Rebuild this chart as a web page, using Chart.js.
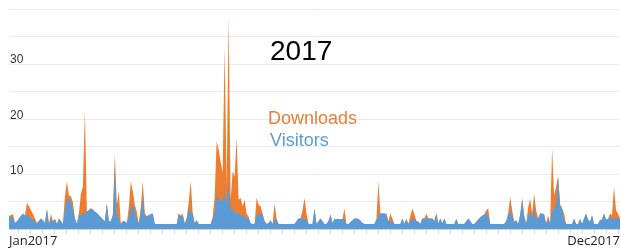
<!DOCTYPE html>
<html>
<head>
<meta charset="utf-8">
<script src="https://cdn.jsdelivr.net/npm/chart.js@4.4.1/dist/chart.umd.min.js"></script>
<style>
  html, body { margin: 0; padding: 0; background: #fff; }
</style>
</head>
<body>
<canvas id="chart" width="621" height="252"></canvas>
<script>
// 2017, one sample every ~2px across the year
const chartTitle = '2017';
const xTickLabels = ['Jan2017', 'Dec2017'];
const yTickLabels = [10, 20, 30];

const visitors = [
  2.5, 2.3, 2.0, 1.2, 1.5, 2.0, 2.5, 2.9, 2.5, 2.6,
  2.4, 2.0, 1.8, 1.5, 1.1, 1.6, 2.0, 1.7, 1.2, 3.7,
  1.0, 2.0, 1.5, 1.9, 1.0, 2.0, 1.5, 1.0, 3.5, 5.6,
  5.5, 5.0, 3.5, 2.0, 1.0, 2.8, 2.5, 2.9, 3.0, 3.2,
  3.5, 3.8, 3.6, 3.2, 3.0, 2.6, 2.2, 1.8, 1.5, 4.7,
  1.5, 1.5, 2.6, 11.4, 2.5, 2.0, 1.0, 1.5, 1.5, 1.2,
  2.3, 4.1, 4.5, 3.0, 2.0, 1.1, 3.0, 6.0, 2.3, 2.4,
  2.6, 2.8, 2.9, 1.0, 1.0, 1.0, 1.0, 1.0, 1.0, 1.0,
  1.0, 1.0, 1.0, 1.0, 1.0, 2.9, 2.3, 2.5, 1.1, 2.0,
  3.8, 3.0, 2.9, 1.1, 1.7, 1.0, 1.0, 1.0, 1.0, 1.0,
  1.0, 1.0, 2.0, 2.9, 6.0, 5.7, 5.3, 5.0, 6.9, 4.2,
  8.7, 3.8, 3.5, 3.3, 2.9, 2.9, 2.6, 2.5, 2.3, 2.1,
  2.0, 1.1, 1.0, 1.0, 2.5, 2.8, 2.9, 2.6, 1.5, 1.0,
  1.2, 1.7, 1.0, 2.0, 1.7, 1.0, 1.0, 1.0, 1.0, 1.0,
  1.0, 1.0, 1.0, 1.0, 1.5, 2.0, 2.0, 2.0, 2.0, 1.7,
  1.0, 1.0, 1.0, 3.8, 1.0, 1.5, 2.0, 1.5, 1.0, 1.0,
  1.5, 2.7, 1.2, 1.9, 1.9, 1.9, 1.9, 1.9, 1.9, 1.0,
  1.0, 1.3, 1.7, 2.0, 2.0, 1.9, 1.6, 1.2, 1.0, 1.0,
  1.0, 1.0, 1.0, 1.0, 1.7, 2.6, 2.9, 2.9, 2.9, 2.6,
  1.5, 1.5, 1.5, 1.0, 1.0, 1.0, 1.0, 2.0, 1.0, 1.9,
  1.0, 1.5, 2.0, 1.8, 1.5, 1.4, 1.0, 2.0, 2.0, 2.0,
  2.0, 2.0, 2.0, 1.5, 2.9, 1.1, 2.0, 1.1, 2.0, 1.0,
  1.0, 1.0, 1.0, 1.0, 1.9, 1.0, 1.0, 1.0, 1.0, 1.5,
  2.0, 1.5, 1.0, 1.0, 1.4, 1.8, 2.2, 2.5, 2.7, 2.9,
  2.5, 1.0, 1.0, 1.0, 1.0, 1.0, 1.0, 1.0, 1.0, 1.5,
  2.5, 3.5, 2.5, 1.4, 1.7, 1.0, 2.6, 5.6, 2.5, 1.0,
  2.5, 3.2, 2.0, 4.1, 2.0, 2.0, 2.9, 2.9, 2.7, 1.1,
  1.9, 1.1, 3.2, 3.8, 4.4, 9.6, 4.5, 3.8, 1.7, 1.0,
  1.0, 1.0, 1.0, 2.0, 1.0, 1.0, 1.9, 1.0, 2.0, 2.9,
  1.8, 1.4, 2.6, 1.0, 1.0, 1.0, 1.7, 1.8, 2.9, 1.8,
  1.9, 2.3, 2.0, 2.0, 2.0, 2.0, 2.0
];

const downloads = [
  2.5, 2.6, 2.8, 1.2, 1.5, 2.0, 2.5, 2.9, 2.6, 4.8,
  4.2, 3.5, 2.8, 2.0, 1.2, 1.6, 2.0, 1.7, 1.2, 3.7,
  1.0, 2.8, 1.5, 1.9, 1.0, 2.0, 1.5, 1.0, 6.0, 8.7,
  6.2, 6.0, 5.0, 2.0, 1.0, 2.8, 6.5, 7.8, 21.7, 3.3,
  3.5, 3.9, 3.6, 3.2, 3.0, 2.6, 2.2, 1.8, 1.5, 4.7,
  1.5, 1.5, 2.6, 13.8, 4.5, 6.9, 1.0, 1.5, 1.5, 1.2,
  4.0, 8.7, 7.0, 4.5, 3.2, 1.1, 4.0, 8.7, 3.0, 2.4,
  2.6, 2.8, 2.9, 1.0, 1.0, 1.0, 1.0, 1.0, 1.0, 1.0,
  1.0, 1.0, 1.0, 1.0, 1.0, 2.9, 2.5, 2.9, 1.1, 2.0,
  5.0, 8.7, 3.0, 1.1, 1.7, 1.0, 1.0, 1.0, 1.0, 1.0,
  1.0, 1.0, 2.2, 6.0, 16.0, 14.5, 12.3, 10.2, 33.2, 7.8,
  38.7, 5.4, 10.5, 9.6, 16.6, 5.4, 5.7, 4.2, 5.4, 2.9,
  2.3, 1.1, 1.0, 1.0, 5.7, 4.5, 4.2, 2.9, 1.5, 1.0,
  1.2, 1.7, 1.0, 4.8, 2.0, 1.0, 1.0, 1.0, 1.0, 1.0,
  1.0, 1.0, 1.0, 1.0, 1.5, 2.0, 2.0, 3.5, 5.7, 2.9,
  1.0, 1.0, 1.0, 3.8, 1.0, 1.5, 2.0, 1.5, 1.0, 1.0,
  1.5, 2.7, 1.2, 1.9, 1.9, 1.9, 1.9, 1.9, 3.8, 1.0,
  1.0, 1.3, 1.7, 2.0, 2.0, 1.9, 1.6, 1.2, 1.0, 1.0,
  1.0, 1.0, 1.0, 1.0, 1.9, 8.7, 2.9, 2.9, 2.9, 2.9,
  1.5, 2.9, 2.0, 1.0, 1.0, 1.0, 1.0, 2.0, 1.0, 1.9,
  1.0, 2.5, 3.8, 2.8, 1.6, 1.4, 1.0, 2.0, 2.0, 2.9,
  2.0, 2.0, 2.0, 1.5, 2.9, 1.1, 2.0, 1.1, 2.0, 1.0,
  1.0, 1.0, 1.0, 1.0, 1.9, 1.0, 1.0, 1.0, 1.0, 1.5,
  2.0, 1.5, 1.0, 1.0, 1.4, 1.8, 2.2, 2.5, 2.7, 3.5,
  3.8, 1.0, 1.0, 1.0, 1.0, 1.0, 1.0, 1.0, 1.0, 1.5,
  3.0, 5.9, 3.5, 1.4, 1.7, 1.0, 2.6, 5.6, 2.5, 1.0,
  4.0, 5.6, 3.0, 6.5, 3.5, 2.0, 2.9, 2.9, 2.7, 1.1,
  2.6, 1.1, 14.7, 6.2, 7.8, 9.6, 4.5, 3.8, 2.9, 1.0,
  1.0, 1.0, 1.0, 2.0, 1.0, 1.0, 1.9, 1.0, 2.0, 2.9,
  1.8, 1.4, 2.6, 1.0, 1.0, 1.0, 1.7, 1.8, 2.9, 1.8,
  1.9, 2.9, 2.6, 7.8, 3.5, 2.9, 2.0
];

const samples = visitors.map((_, i) => i);

const ORANGE = '#ED7D31';
const BLUE = '#5B9BD5';

// title + coloured legend text sit inside the plot
const overlayText = {
  id: 'overlayText',
  afterDraw(chart) {
    const ctx = chart.ctx;
    ctx.save();
    ctx.textAlign = 'left';
    ctx.textBaseline = 'alphabetic';
    ctx.font = '28px "Liberation Sans", Arial, sans-serif';
    ctx.fillStyle = '#000';
    ctx.fillText(chartTitle, 270, 60);
    ctx.font = '18px "Liberation Sans", Arial, sans-serif';
    ctx.fillStyle = ORANGE;
    ctx.fillText('Downloads', 268, 124);
    ctx.fillStyle = BLUE;
    ctx.fillText('Visitors', 270, 146);
    ctx.restore();
  }
};

new Chart(document.getElementById('chart'), {
  type: 'line',
  data: {
    labels: samples,
    datasets: [
      { label: 'Visitors', data: visitors, backgroundColor: BLUE, borderColor: 'rgba(0,0,0,0)', borderWidth: 0, fill: 'origin', pointRadius: 0, tension: 0, order: 0 },
      { label: 'Downloads', data: downloads, backgroundColor: ORANGE, borderColor: 'rgba(0,0,0,0)', borderWidth: 0, fill: 'origin', pointRadius: 0, tension: 0, order: 1 }
    ]
  },
  options: {
    responsive: false,
    animation: false,
    devicePixelRatio: 1,
    layout: { padding: { left: 7, right: 1, top: 9, bottom: 0 } },
    plugins: { legend: { display: false }, tooltip: { enabled: false } },
    scales: {
      x: {
        type: 'category',
        offset: false,
        border: { display: false },
        grid: {
          drawOnChartArea: false,
          tickLength: 4,
          color: ctx => (ctx.index % 6 === 5 ? '#d6d6d6' : 'rgba(0,0,0,0)')
        },
        ticks: {
          autoSkip: false,
          maxRotation: 0,
          align: 'inner',
          padding: 0,
          color: '#222',
          font: { family: 'Open Sans', size: 13 },
          callback: (v, i, arr) => (i === 0 ? xTickLabels[0] : i === arr.length - 1 ? xTickLabels[1] : '')
        },
        afterFit: s => { s.height = 22.5; }
      },
      y: {
        min: 0,
        max: 40,
        border: { display: false },
        grid: { color: '#ebebeb', drawTicks: false },
        ticks: {
          stepSize: 5,
          mirror: true,
          padding: 1,
          labelOffset: -4,
          color: '#333',
          font: { family: 'Liberation Sans', size: 12 },
          callback: v => (yTickLabels.includes(v) ? String(v) : '')
        },
        afterFit: s => { s.paddingTop = 0; s.paddingBottom = 0; }
      }
    }
  },
  plugins: [overlayText]
});
</script>
</body>
</html>
